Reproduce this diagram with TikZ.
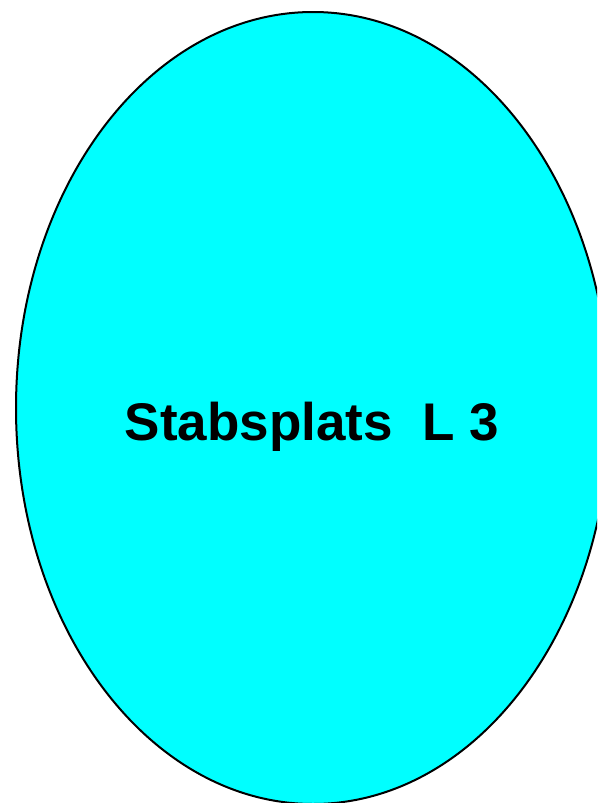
\documentclass[tikz,border=0pt]{standalone}
\usepackage{fontspec}
\setmainfont{Liberation Sans}
\usepackage{tikz}
\definecolor{aquafill}{RGB}{0,255,255}

\begin{document}
\begin{tikzpicture}[x=1pt,y=-1pt]

\useasboundingbox (0,0) rectangle (597,803);
\clip (0,0) rectangle (597,803);

\draw[line width=2pt, fill=aquafill] (313,408) ellipse (297 and 396);
\node[font=\fontsize{53}{58}\selectfont\bfseries] (label) at (312,427) {Stabsplats\ \ L 3};

\end{tikzpicture}
\end{document}
